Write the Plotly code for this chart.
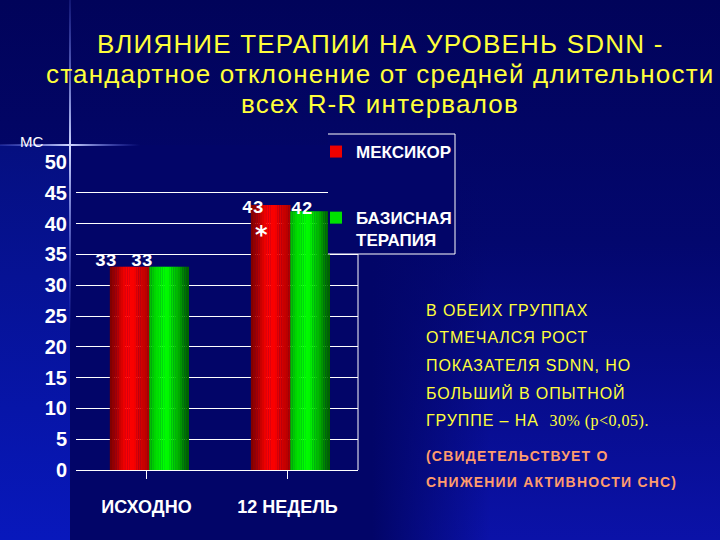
import base64
import plotly.graph_objects as go

# ---------------- data ----------------
categories = ["ИСХОДНО", "12 НЕДЕЛЬ"]
mexicor = [33, 43]
basic = [33, 42]
series_names = ["МЕКСИКОР", "БАЗИСНАЯ<br>ТЕРАПИЯ"]
y_ticks = [0, 5, 10, 15, 20, 25, 30, 35, 40, 45, 50]
significance = ["", "*"]

title_lines = [
    "ВЛИЯНИЕ ТЕРАПИИ НА УРОВЕНЬ SDNN -",
    "стандартное отклонение от средней длительности",
    "всех R-R интервалов",
]
note_yellow = [
    "В ОБЕИХ ГРУППАХ",
    "ОТМЕЧАЛСЯ РОСТ",
    "ПОКАЗАТЕЛЯ SDNN, НО",
    "БОЛЬШИЙ В ОПЫТНОЙ",
    "ГРУППЕ – НА  <span style=\"font-family:'Liberation Serif',serif;letter-spacing:0.5px\">30% (р&lt;0,05).</span>",
]
note_orange = ["(СВИДЕТЕЛЬСТВУЕТ О", "СНИЖЕНИИ АКТИВНОСТИ СНС)"]

# ---------------- style ----------------
W, H = 720, 540
L, R, T, B = 76, 362, 162, 70
PW, PH = W - L - R, H - T - B
SANS = "Liberation Sans, Arial, sans-serif"
MONO = "Liberation Mono, Courier New, monospace"
YELLOW = "#ffff3a"
ORANGE = "#ff9c6c"
NAVY = "#020568"


def ramp(stops, n):
    """Colour ramp across a bar's width (style only)."""
    out = []
    for k in range(n):
        t = (k + 0.5) / n
        for (t0, c0), (t1, c1) in zip(stops[:-1], stops[1:]):
            if t0 <= t <= t1:
                f = (t - t0) / (t1 - t0)
                rgb = [round(a + (b - a) * f) for a, b in zip(c0, c1)]
                out.append("rgb({},{},{})".format(*rgb))
                break
    return out


N_STRIPS = 18
red_shades = ramp([(0, (120, 0, 0)), (0.42, (255, 0, 0)), (0.6, (250, 0, 0)), (1, (170, 0, 0))], N_STRIPS)
green_shades = ramp([(0, (0, 185, 0)), (0.35, (0, 255, 0)), (0.5, (0, 245, 0)), (1, (0, 90, 0))], N_STRIPS)
BW = 0.28
red_off, green_off = -0.26, 0.02

fig = go.Figure()


def add_strips(vals, shades, off):
    n = len(shades)
    for k, c in enumerate(shades):
        fig.add_trace(go.Bar(
            x=list(range(len(categories))), y=vals,
            offset=off + k * BW / n, width=BW / n * 1.1,
            marker=dict(color=c, line=dict(width=0)),
            showlegend=False, hoverinfo="skip"))


add_strips(mexicor, red_shades, red_off)
add_strips(basic, green_shades, green_off)

# legend entries
for name, col, grp in [(series_names[0], "#ee0000", "a"), (series_names[1], "#00e000", "b")]:
    fig.add_trace(go.Bar(x=[0], y=[0], name=name, legendgroup=grp,
                         marker=dict(color=col, line=dict(width=0)),
                         showlegend=True, hoverinfo="skip"))

# data labels
ann = []
label_dx = [[-23.5, -17.5], [-27, -8]]
label_dy = [[6, -2.5], [6, 2.5]]
for s, (vals, off) in enumerate([(mexicor, red_off), (basic, green_off)]):
    for i, v in enumerate(vals):
        ann.append(dict(x=i + off + BW / 2, y=v, xref="x", yref="y", text=str(v),
                        showarrow=False, xanchor="center", yanchor="middle",
                        xshift=label_dx[s][i], yshift=label_dy[s][i],
                        font=dict(family=MONO, size=18, color="white", weight="bold")))
for i, sig in enumerate(significance):
    if sig:
        ann.append(dict(x=i + red_off + BW / 2, y=mexicor[i], xref="x", yref="y", text=sig,
                        showarrow=False, xanchor="center", yanchor="middle",
                        xshift=-9.5, yshift=-30,
                        font=dict(family="DejaVu Sans", size=24, color="white", weight="bold")))


def px_x(px):
    return (px - L) / PW


def px_y(py):
    return (H - B - py) / PH


# title
for line, yc in zip(title_lines, [44, 74, 104]):
    ann.append(dict(x=px_x(380), y=px_y(yc), xref="paper", yref="paper",
                    text='<span style="letter-spacing:1.2px">' + line + "</span>",
                    showarrow=False, xanchor="center", yanchor="middle",
                    font=dict(family=SANS, size=26, color=YELLOW)))
# unit label
ann.append(dict(x=px_x(18), y=px_y(141), xref="paper", yref="paper", text="МС",
                showarrow=False, xanchor="left", yanchor="middle",
                font=dict(family=SANS, size=15, color="white")))
# notes
for line, yc in zip(note_yellow, [310, 337, 365, 393, 421]):
    ann.append(dict(x=px_x(424), y=px_y(yc), xref="paper", yref="paper",
                    text='<span style="letter-spacing:0.9px">' + line + "</span>",
                    showarrow=False, xanchor="left", yanchor="middle",
                    font=dict(family=SANS, size=16, color=YELLOW)))
for line, yc in zip(note_orange, [456, 482]):
    ann.append(dict(x=px_x(424), y=px_y(yc), xref="paper", yref="paper",
                    text='<span style="letter-spacing:1.2px">' + line + "</span>",
                    showarrow=False, xanchor="left", yanchor="middle",
                    font=dict(family=SANS, size=14, color=ORANGE, weight="bold")))

# background (slide gradient + decorative cross)
svg = f'''<svg xmlns="http://www.w3.org/2000/svg" width="{W}" height="{H}" viewBox="0 0 {W} {H}" preserveAspectRatio="none">
<defs>
<linearGradient id="bg" x1="0" y1="0" x2="0" y2="1">
<stop offset="0" stop-color="#01035a"/><stop offset="0.45" stop-color="#03076e"/><stop offset="1" stop-color="#0b12a8"/></linearGradient>
<linearGradient id="ls" x1="0" y1="0" x2="0" y2="1">
<stop offset="0" stop-color="#050f80"/><stop offset="1" stop-color="#0818bc"/></linearGradient>
<linearGradient id="ch" x1="0" y1="0" x2="1" y2="0">
<stop offset="0" stop-color="{NAVY}"/><stop offset="0.72" stop-color="{NAVY}"/><stop offset="1" stop-color="{NAVY}" stop-opacity="0"/></linearGradient>
<linearGradient id="vl" x1="0" y1="0" x2="0" y2="1">
<stop offset="0" stop-color="#7080ff" stop-opacity="0.15"/><stop offset="0.45" stop-color="#d0d8ff" stop-opacity="1"/><stop offset="1" stop-color="#6070ff" stop-opacity="0"/></linearGradient>
<linearGradient id="hl" x1="0" y1="0" x2="1" y2="0">
<stop offset="0" stop-color="#7080ff" stop-opacity="0.2"/><stop offset="0.5" stop-color="#d0d8ff" stop-opacity="1"/><stop offset="1" stop-color="#6070ff" stop-opacity="0"/></linearGradient>
</defs>
<rect width="{W}" height="{H}" fill="url(#bg)"/>
<rect x="0" y="145" width="70" height="395" fill="url(#ls)"/>
<rect x="70" y="145" width="420" height="395" fill="url(#ch)"/>
<rect x="69" y="0" width="2" height="330" fill="url(#vl)"/>
<rect x="0" y="144" width="140" height="2" fill="url(#hl)"/>
</svg>'''
uri = "data:image/svg+xml;base64," + base64.b64encode(svg.encode()).decode()


def bold_font(size):
    return dict(family=SANS, size=size, color="white", weight="bold")


# legend frame (top/right/bottom edges) and its opaque fill
bx0, bx1, by0, by1 = px_x(328), px_x(455), px_y(254), px_y(134)
shapes = [
    dict(type="line", xref="paper", yref="paper", x0=1, x1=1, y0=0, y1=1,
         line=dict(color="white", width=1)),
    dict(type="rect", xref="paper", yref="paper", x0=bx0, x1=bx1, y0=by0, y1=by1,
         fillcolor=NAVY, line=dict(width=0), layer="above"),
    dict(type="path", xref="paper", yref="paper", layer="above",
         path=f"M{bx0},{by1} L{bx1},{by1} L{bx1},{by0} L{bx0},{by0}",
         line=dict(color="white", width=1)),
]

fig.update_layout(
    width=W, height=H,
    margin=dict(l=L, r=R, t=T, b=B),
    paper_bgcolor="#01035a", plot_bgcolor="rgba(0,0,0,0)",
    barmode="overlay",
    images=[dict(source=uri, xref="paper", yref="paper",
                 x=-L / PW, y=(H - B) / PH, sizex=W / PW, sizey=H / PH,
                 xanchor="left", yanchor="top", sizing="stretch", layer="below")],
    xaxis=dict(tickmode="array", tickvals=list(range(len(categories))), ticktext=categories,
               range=[-0.5, len(categories) - 0.5],
               showline=True, linecolor="white", linewidth=1,
               ticks="outside", tickson="boundaries", ticklen=8, tickcolor="white",
               ticklabelstandoff=12, showgrid=False, zeroline=False,
               tickfont=bold_font(18)),
    yaxis=dict(range=[0, 50], tickvals=y_ticks, showgrid=True, gridcolor="white", gridwidth=1,
               zeroline=False, showline=False, ticks="", ticklabelstandoff=8,
               tickfont=bold_font(20)),
    legend=dict(x=px_x(316), y=px_y(134), xanchor="left", yanchor="top",
                bgcolor="rgba(0,0,0,0)", borderwidth=0,
                font=bold_font(17),
                tracegroupgap=41, valign="top", itemwidth=30),
    shapes=shapes,
    annotations=ann,
    showlegend=True,
)

fig.write_html("out.html", config={"displayModeBar": False},
               post_script="document.body.style.margin='0';document.body.style.padding='0';")
